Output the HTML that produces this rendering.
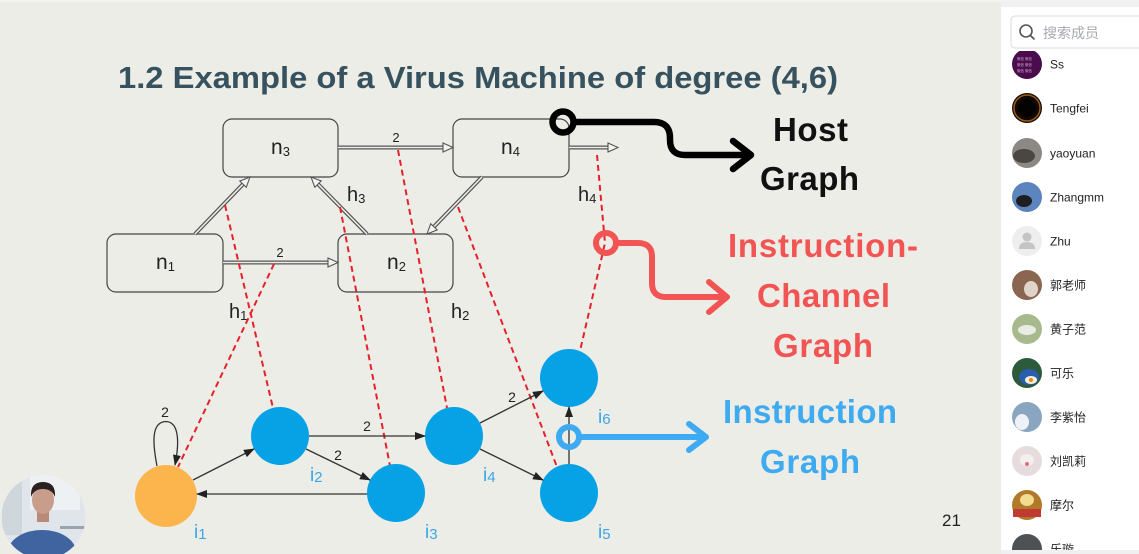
<!DOCTYPE html>
<html><head><meta charset="utf-8">
<style>
html,body{margin:0;padding:0;width:1139px;height:554px;overflow:hidden;background:#edede8;}
svg{display:block;}
text{font-family:"Liberation Sans","Noto Sans CJK SC",sans-serif;}
</style></head>
<body>
<svg width="1139" height="554" viewBox="0 0 1139 554" xmlns="http://www.w3.org/2000/svg">
<defs>
  <marker id="ah" markerWidth="11" markerHeight="8" refX="10" refY="4" orient="auto" markerUnits="userSpaceOnUse">
    <path d="M0,0 L11,4 L0,8 z" fill="#222"/>
  </marker>
  <clipPath id="cam"><circle cx="43.5" cy="517" r="42"/></clipPath>
  <clipPath id="list"><rect x="1001" y="51" width="138" height="499"/></clipPath>
</defs>

<!-- slide background -->
<rect x="0" y="0" width="1001" height="554" fill="#edede8"/>
<rect x="0" y="0" width="1001" height="2" fill="#f3f3f1"/>

<!-- title -->
<text x="118" y="88" font-size="31" font-weight="bold" fill="#37525f" textLength="720" lengthAdjust="spacingAndGlyphs">1.2 Example of a Virus Machine of degree (4,6)</text>

<!-- host graph boxes -->
<g fill="none" stroke="#444" stroke-width="1.2">
  <rect x="223" y="119" width="115" height="58" rx="9"/>
  <rect x="453" y="119" width="116" height="58" rx="9"/>
  <rect x="107" y="234" width="116" height="58" rx="9"/>
  <rect x="338" y="234" width="115" height="58" rx="9"/>
</g>
<g font-size="21" fill="#222">
  <text x="271" y="154">n<tspan font-size="13" dy="2">3</tspan></text>
  <text x="501" y="154">n<tspan font-size="13" dy="2">4</tspan></text>
  <text x="156" y="269">n<tspan font-size="13" dy="2">1</tspan></text>
  <text x="387" y="269">n<tspan font-size="13" dy="2">2</tspan></text>
</g>

<!-- host graph double arrows -->
<g stroke-linecap="butt">
  <g stroke="#555" stroke-width="4" fill="none">
    <line x1="338" y1="147.5" x2="443" y2="147.5"/>
    <line x1="569" y1="147.5" x2="608" y2="147.5"/>
    <line x1="223" y1="262.5" x2="328" y2="262.5"/>
    <line x1="195" y1="234" x2="243" y2="184.2"/>
    <line x1="367" y1="234" x2="318" y2="184.1"/>
    <line x1="482" y1="177" x2="433.9" y2="226.8"/>
  </g>
  <g stroke="#edede8" stroke-width="1.6" fill="none">
    <line x1="338" y1="147.5" x2="443" y2="147.5"/>
    <line x1="569" y1="147.5" x2="608" y2="147.5"/>
    <line x1="223" y1="262.5" x2="328" y2="262.5"/>
    <line x1="195" y1="234" x2="243" y2="184.2"/>
    <line x1="367" y1="234" x2="318" y2="184.1"/>
    <line x1="482" y1="177" x2="433.9" y2="226.8"/>
  </g>
  <g fill="#f4f4f0" stroke="#555" stroke-width="1.1" stroke-linejoin="miter">
    <polygon points="453,147.5 443,143 443,152"/>
    <polygon points="618,147.5 608,143 608,152"/>
    <polygon points="338,262.5 328,258 328,267"/>
    <polygon points="250,177 246.3,187.3 239.8,181.1"/>
    <polygon points="311,177 321.2,181 314.8,187.3"/>
    <polygon points="427,234 437.2,229.9 430.7,223.7"/>
  </g>
</g>
<g font-size="13" fill="#222" text-anchor="middle">
  <text x="396" y="142">2</text>
  <text x="280" y="257">2</text>
</g>
<g font-size="20" fill="#222">
  <text x="347" y="201">h<tspan font-size="13" dy="2">3</tspan></text>
  <text x="578" y="201">h<tspan font-size="13" dy="2">4</tspan></text>
  <text x="229" y="318">h<tspan font-size="13" dy="2">1</tspan></text>
  <text x="451" y="318">h<tspan font-size="13" dy="2">2</tspan></text>
</g>

<!-- red dashed channel lines -->
<g stroke="#e5212b" stroke-width="2" stroke-dasharray="6 4" fill="none">
  <line x1="225" y1="205" x2="273" y2="408"/>
  <line x1="274" y1="264" x2="178" y2="467"/>
  <line x1="340" y1="207" x2="390" y2="466"/>
  <line x1="398" y1="150" x2="447" y2="408"/>
  <line x1="458" y1="207" x2="557" y2="467"/>
  <polyline points="597,155 605,243 580,351"/>
</g>

<!-- instruction graph nodes -->
<circle cx="166" cy="496" r="31" fill="#fbb54c"/>
<g fill="#07a2e5">
  <circle cx="280" cy="436" r="29"/>
  <circle cx="396" cy="493" r="29"/>
  <circle cx="454" cy="436" r="29"/>
  <circle cx="569" cy="493" r="29"/>
  <circle cx="569" cy="378" r="29"/>
</g>

<!-- instruction graph edges -->
<g stroke="#333" stroke-width="1.3" fill="none" marker-end="url(#ah)">
  <line x1="193" y1="480" x2="254" y2="449"/>
  <line x1="306" y1="449" x2="370" y2="480"/>
  <line x1="309" y1="436" x2="425" y2="436"/>
  <line x1="367" y1="494" x2="197" y2="494"/>
  <line x1="480" y1="423" x2="543" y2="391"/>
  <line x1="480" y1="449" x2="543" y2="480"/>
  <line x1="569" y1="464" x2="569" y2="407"/>
  <path d="M157,466 C152,440 152,422 166,421.5 C180,422 179,445 175,465"/>
</g>
<g font-size="14" fill="#222" text-anchor="middle">
  <text x="165" y="417">2</text>
  <text x="338" y="460">2</text>
  <text x="367" y="431">2</text>
  <text x="512" y="402">2</text>
</g>
<g font-size="19" fill="#3aa6e6">
  <text x="194" y="538">i<tspan font-size="15" dy="1">1</tspan></text>
  <text x="310" y="481">i<tspan font-size="15" dy="1">2</tspan></text>
  <text x="425" y="538">i<tspan font-size="15" dy="1">3</tspan></text>
  <text x="483" y="481">i<tspan font-size="15" dy="1">4</tspan></text>
  <text x="598" y="538">i<tspan font-size="15" dy="1">5</tspan></text>
  <text x="598" y="423">i<tspan font-size="15" dy="1">6</tspan></text>
</g>

<!-- annotations: black (host graph) -->
<g stroke="#000" stroke-width="6.5" fill="none" stroke-linecap="round" stroke-linejoin="round">
  <circle cx="563" cy="122" r="10.5"/>
  <path d="M574,122 H654 Q670,122 670,138 V140 Q670,155 685,155 H750"/>
  <polyline points="733,141 751,155 733,169"/>
</g>
<!-- red (instruction-channel graph) -->
<g stroke="#f25454" stroke-width="6" fill="none" stroke-linecap="round" stroke-linejoin="round">
  <circle cx="606" cy="243" r="10"/>
  <path d="M616,243 H638 Q652,243 652,257 V283 Q652,297 666,297 H726"/>
  <polyline points="709,282 727,297 709,312"/>
</g>
<!-- blue (instruction graph) -->
<g stroke="#3eaaf2" stroke-width="6" fill="none" stroke-linecap="round" stroke-linejoin="round">
  <circle cx="569" cy="437" r="10"/>
  <path d="M579,437 H705"/>
  <polyline points="689,424 706,437 689,450"/>
</g>

<g font-size="33" font-weight="bold" lengthAdjust="spacingAndGlyphs">
  <text x="773" y="141" fill="#111" textLength="75">Host</text>
  <text x="760" y="190" fill="#111" textLength="99">Graph</text>
  <text x="728" y="257" fill="#f25454" textLength="190">Instruction-</text>
  <text x="757" y="307" fill="#f25454" textLength="133">Channel</text>
  <text x="773" y="357" fill="#f25454" textLength="100">Graph</text>
  <text x="723" y="423" fill="#3eaaf0" textLength="174">Instruction</text>
  <text x="760" y="473" fill="#3eaaf0" textLength="100">Graph</text>
</g>

<!-- page number -->
<text x="942" y="526" font-size="17" fill="#222">21</text>

<!-- webcam -->
<g clip-path="url(#cam)">
  <rect x="0" y="470" width="90" height="90" fill="#dfe5ea"/>
  <rect x="30" y="470" width="50" height="40" fill="#eef1f4"/>
  <rect x="2" y="475" width="20" height="60" fill="#cfd6dc"/>
  <rect x="60" y="526" width="30" height="3" fill="#9aa4ac"/>
  <ellipse cx="42" cy="552" rx="34" ry="22" fill="#3f64a0"/>
  <rect x="37" y="508" width="12" height="14" fill="#b88a78"/>
  <ellipse cx="43" cy="500" rx="11" ry="14" fill="#c99d8c"/>
  <path d="M31,497 Q30,482 43,482 Q56,482 55,497 Q52,489 43,489 Q34,489 31,497 z" fill="#2a2220"/>
</g>

<!-- sidebar -->
<rect x="1001" y="0" width="138" height="554" fill="#ffffff"/>
<rect x="1001" y="0" width="138" height="7" fill="#f1f1f1"/>
<rect x="1011" y="16" width="140" height="32" rx="4" fill="#fff" stroke="#d8dadf" stroke-width="1"/>
<circle cx="1026" cy="31" r="6" fill="none" stroke="#555" stroke-width="1.6"/>
<line x1="1030.5" y1="35.5" x2="1034" y2="39" stroke="#555" stroke-width="1.6" stroke-linecap="round"/>
<text x="1043" y="38" font-size="14" fill="#a6a9b0">搜索成员</text>

<g clip-path="url(#list)" font-size="12" fill="#222">
  <circle cx="1027" cy="64" r="15" fill="#4a0c4c"/>
  <g fill="#c9a0cc" font-size="3.5"><text x="1017" y="60">微信 微信</text><text x="1017" y="66">微信 微信</text><text x="1017" y="72">微信 微信</text></g>
  <text x="1050" y="68.5">Ss</text>
  <circle cx="1027" cy="108" r="15" fill="#120804"/>
  <circle cx="1027" cy="108" r="13" fill="none" stroke="#9a5a1a" stroke-width="1.5"/>
  <circle cx="1027" cy="108" r="9" fill="#050302"/>
  <text x="1050" y="112.5">Tengfei</text>
  <circle cx="1027" cy="153" r="15" fill="#8c8884"/>
  <ellipse cx="1024" cy="156" rx="11" ry="7" fill="#4c4643"/>
  <text x="1050" y="157.5">yaoyuan</text>
  <circle cx="1027" cy="197" r="15" fill="#5d85bd"/>
  <ellipse cx="1024" cy="201" rx="8" ry="6" fill="#1e1e22"/>
  <text x="1050" y="201.5">Zhangmm</text>
  <circle cx="1027" cy="241" r="15" fill="#eeeeee"/>
  <circle cx="1027" cy="237" r="4.5" fill="#c4c4c4"/>
  <path d="M1019,249 Q1019,242 1027,242 Q1035,242 1035,249 z" fill="#c4c4c4"/>
  <text x="1050" y="245.5">Zhu</text>
  <circle cx="1027" cy="285" r="15" fill="#8a6550"/>
  <ellipse cx="1031" cy="289" rx="7" ry="8" fill="#e0d4c8"/>
  <text x="1050" y="289.5">郭老师</text>
  <circle cx="1027" cy="329" r="15" fill="#a9b98e"/>
  <ellipse cx="1027" cy="330" rx="9" ry="5" fill="#e8ece4"/>
  <text x="1050" y="333.5">黄子范</text>
  <circle cx="1027" cy="373" r="15" fill="#2d5a3a"/>
  <ellipse cx="1029" cy="377" rx="10" ry="8" fill="#2a5cb0"/>
  <ellipse cx="1031" cy="380" rx="6" ry="4" fill="#f4f0d8"/>
  <circle cx="1031" cy="380" r="2" fill="#f08020"/>
  <text x="1050" y="377.5">可乐</text>
  <circle cx="1027" cy="417" r="15" fill="#8aa5bf"/>
  <ellipse cx="1022" cy="422" rx="7" ry="8" fill="#eef2f6"/>
  <text x="1050" y="421.5">李紫怡</text>
  <circle cx="1027" cy="461" r="15" fill="#e6dcdd"/>
  <ellipse cx="1027" cy="460" rx="7" ry="6" fill="#f4eeee"/>
  <circle cx="1027" cy="464" r="2" fill="#e0707a"/>
  <text x="1050" y="465.5">刘凯莉</text>
  <circle cx="1027" cy="505" r="15" fill="#b07a2a"/>
  <ellipse cx="1027" cy="500" rx="7" ry="6" fill="#f2dc90"/>
  <rect x="1013" y="509" width="28" height="8" fill="#c03a30"/>
  <text x="1050" y="509.5">摩尔</text>
  <circle cx="1027" cy="549" r="15" fill="#4e5254"/>
  <text x="1050" y="553.5">乐璇</text>
</g>
<rect x="1001" y="550" width="138" height="4" fill="#f0f0f0"/>
</svg>
</body></html>
